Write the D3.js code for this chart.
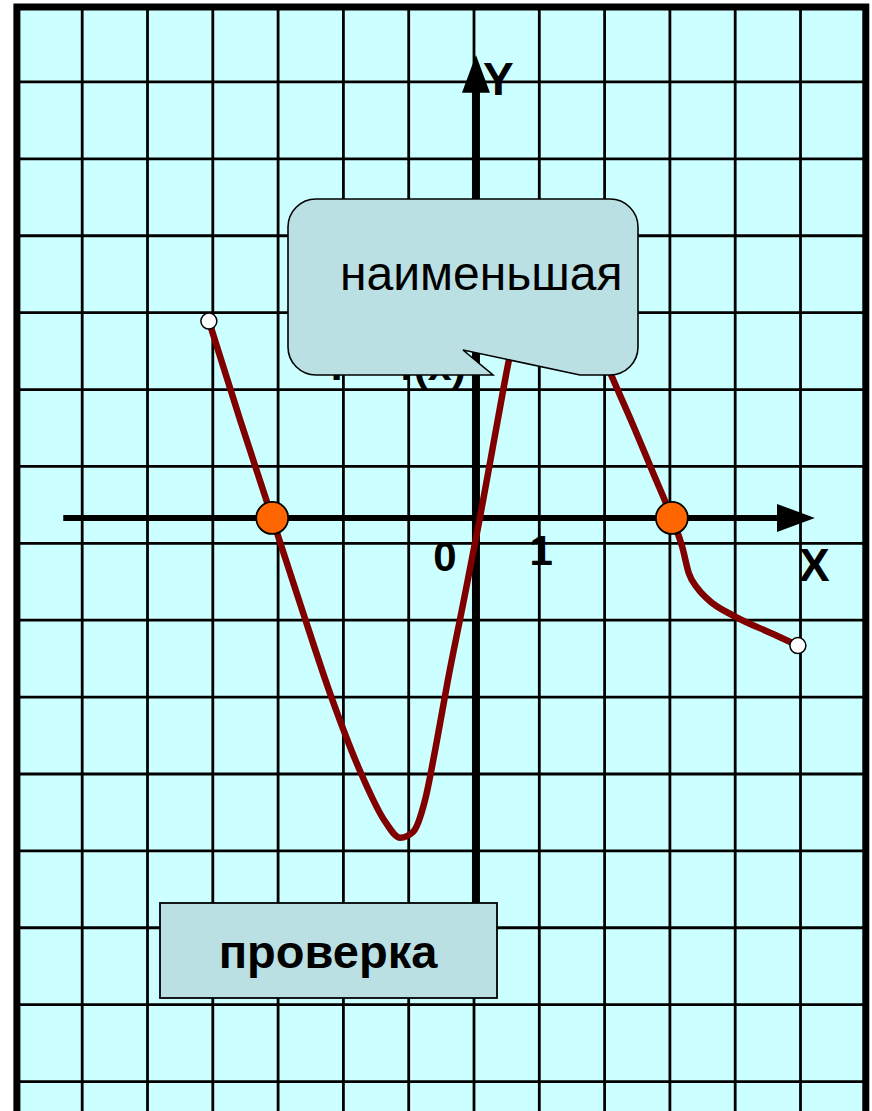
<!DOCTYPE html>
<html>
<head>
<meta charset="utf-8">
<script src="https://cdn.jsdelivr.net/npm/d3@7"></script>
<style>
  body { margin: 0; background: #fff; }
  text { font-family: "Liberation Sans", Arial, sans-serif; }
</style>
</head>
<body>
<div id="graph"></div>
<script>
// données de la courbe (unités du repère)
const curveX = [-4.06, -3.58, -3.09, -2.63, -2.18, -1.72, -1.36, -1.13, -0.93, -0.75, -0.58, -0.40, -0.17, 0.09, 0.35, 0.52, 0.78, 1.09, 1.32, 1.62, 1.87, 2.08, 2.44, 2.74, 3.03, 3.19, 3.29, 3.42, 3.61, 3.97, 4.58, 4.96];
const curveY = [2.56, 1.27, 0, -1.20, -2.34, -3.34, -3.95, -4.16, -4.08, -3.67, -2.95, -2.11, -1.13, 0, 1.21, 1.99, 2.97, 3.55, 3.65, 3.33, 2.33, 1.90, 1.20, 0.59, 0, -0.38, -0.72, -0.91, -1.08, -1.27, -1.51, -1.66];

// zéros marqués et extrémités ouvertes
const rootsX = [-3.09, 3.03];
const endsX = [-4.06, 4.96];
const endsY = [2.56, -1.66];

// graduations et textes
const tickValues = [0, 1];
const tickLabels = ["0", "1"];
const axisNames = ["X", "Y"];
const formulaText = "Y = f(x)";
const calloutText = "наименьшая";
const buttonText = "проверка";

const width = 872, height = 1111;

const svg = d3.select("#graph")
    .append("svg")
    .attr("width", width)
    .attr("height", height);

// échelles : une case = une unité
const x = d3.scaleLinear()
    .domain([-7, 6])
    .range([16.9, 865.8]);
const y = d3.scaleLinear()
    .domain([-7.7, 6.645])
    .range([1110, 7]);

/************ FOND ET GRILLE ***********/

svg.append("rect")
    .attr("x", x(-7))
    .attr("y", y(6.645))
    .attr("width", x(6) - x(-7))
    .attr("height", 1200)
    .style("fill", "#CCFFFF");

const gridCols = d3.range(-6, 6);
const gridRows = d3.range(0, 14).map(k => 5.67 - k);

svg.append("g")
    .selectAll("line")
    .data(gridCols)
    .join("line")
    .attr("x1", d => x(d))
    .attr("x2", d => x(d))
    .attr("y1", y(6.645))
    .attr("y2", height)
    .style("stroke", "#000")
    .style("stroke-width", 2.8);

svg.append("g")
    .selectAll("line")
    .data(gridRows)
    .join("line")
    .attr("x1", x(-7))
    .attr("x2", x(6))
    .attr("y1", d => y(d))
    .attr("y2", d => y(d))
    .style("stroke", "#000")
    .style("stroke-width", 2.8);

// cadre
svg.append("path")
    .attr("d", `M${x(-7)},${height + 10} V${y(6.645)} H${x(6)} V${height + 10}`)
    .style("fill", "none")
    .style("stroke", "#000")
    .style("stroke-width", 7);

/************ AXES ***********/

// axe X
svg.append("line")
    .attr("x1", x(-6.29))
    .attr("x2", x(4.7))
    .attr("y1", y(0))
    .attr("y2", y(0))
    .style("stroke", "#000")
    .style("stroke-width", 6);
svg.append("path")
    .attr("d", `M${x(4.64)},${y(0) - 14} L${x(5.22)},${y(0)} L${x(4.64)},${y(0) + 14} Z`)
    .style("fill", "#000");

// axe Y
svg.append("line")
    .attr("x1", x(0.03))
    .attr("x2", x(0.03))
    .attr("y1", y(5.6))
    .attr("y2", y(-5.6))
    .style("stroke", "#000")
    .style("stroke-width", 8);
svg.append("path")
    .attr("d", `M${x(0.03) - 14},${y(5.53)} L${x(0.03)},${y(6.02)} L${x(0.03) + 14},${y(5.53)} Z`)
    .style("fill", "#000");

// noms des axes
svg.append("text")
    .attr("x", 799)
    .attr("y", 581)
    .style("font-size", "46px")
    .style("font-weight", "bold")
    .text(axisNames[0]);
svg.append("text")
    .attr("x", 483)
    .attr("y", 95)
    .style("font-size", "46px")
    .style("font-weight", "bold")
    .text(axisNames[1]);

// graduations 0 et 1
svg.selectAll("ticklabels")
    .data(tickValues)
    .join("text")
    .attr("x", (d, i) => i === 0 ? x(d) - 29 : x(d) + 2)
    .attr("y", (d, i) => i === 0 ? 571 : 565)
    .attr("text-anchor", "middle")
    .style("font-size", "42px")
    .style("font-weight", "bold")
    .text((d, i) => tickLabels[i]);

/************ COURBE ***********/

const line = d3.line()
    .x(d => x(d[0]))
    .y(d => y(d[1]))
    .curve(d3.curveMonotoneX);

svg.append("path")
    .datum(curveX.map((d, i) => [d, curveY[i]]))
    .attr("d", line)
    .style("fill", "none")
    .style("stroke", "#800000")
    .style("stroke-width", 6.5)
    .style("stroke-linejoin", "round");

// extrémités non incluses
svg.selectAll("ends")
    .data(endsX)
    .join("circle")
    .attr("cx", d => x(d))
    .attr("cy", (d, i) => y(endsY[i]))
    .attr("r", 8)
    .style("fill", "#fff")
    .style("stroke", "#000")
    .style("stroke-width", 1.5);

// zéros de la fonction
svg.selectAll("roots")
    .data(rootsX)
    .join("circle")
    .attr("cx", d => x(d))
    .attr("cy", y(0))
    .attr("r", 16)
    .style("fill", "#FF6600")
    .style("stroke", "#000")
    .style("stroke-width", 1.8);

// formule (en partie cachée par la bulle)
svg.append("text")
    .attr("x", 466)
    .attr("y", 380)
    .attr("text-anchor", "end")
    .style("font-size", "43px")
    .style("font-weight", "bold")
    .text(formulaText);

/************ BULLE ***********/

const bx0 = 288, bx1 = 638, by0 = 199, by1 = 375, r = 28;
svg.append("path")
    .attr("d", `M${bx0 + r},${by0} H${bx1 - r} A${r},${r} 0 0 1 ${bx1},${by0 + r}
        V${by1 - r} A${r},${r} 0 0 1 ${bx1 - r},${by1} H580 L463,350 L493,${by1}
        H${bx0 + r} A${r},${r} 0 0 1 ${bx0},${by1 - r} V${by0 + r} A${r},${r} 0 0 1 ${bx0 + r},${by0} Z`)
    .style("fill", "#BBE0E3")
    .style("stroke", "#000")
    .style("stroke-width", 1.6);

svg.append("text")
    .attr("x", 340)
    .attr("y", 290)
    .style("font-size", "48px")
    .text(calloutText);

/************ BOUTON ***********/

svg.append("rect")
    .attr("x", 160)
    .attr("y", 903)
    .attr("width", 337)
    .attr("height", 95)
    .style("fill", "#BBE0E3")
    .style("stroke", "#000")
    .style("stroke-width", 1.8);

svg.append("text")
    .attr("x", 328)
    .attr("y", 968)
    .attr("text-anchor", "middle")
    .style("font-size", "47px")
    .style("font-weight", "bold")
    .text(buttonText);
</script>
</body>
</html>
